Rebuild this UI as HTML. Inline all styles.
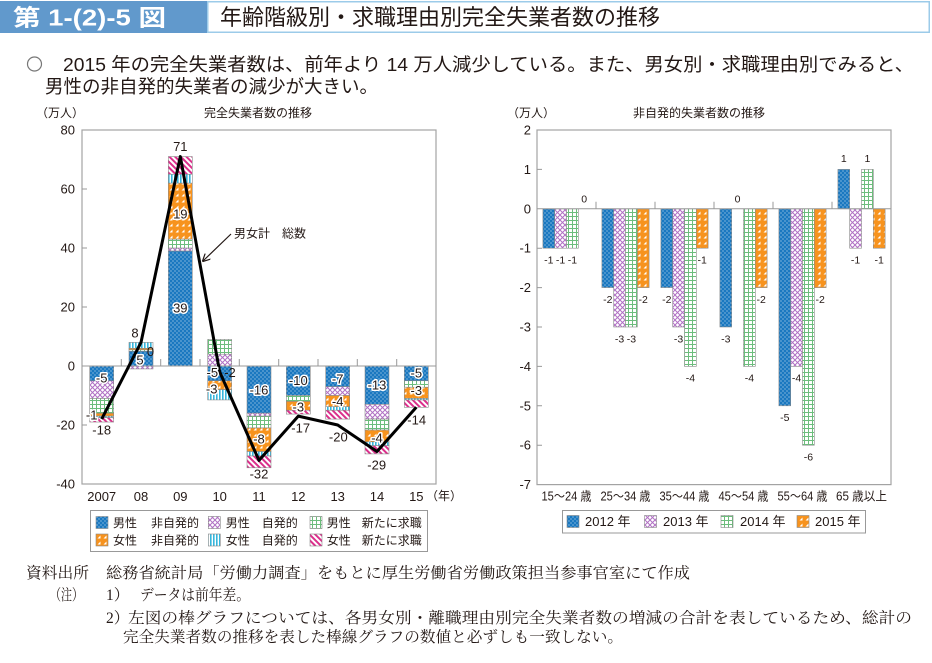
<!DOCTYPE html>
<html><head><meta charset="utf-8">
<style>
html,body{margin:0;padding:0;background:#fff;}
svg{display:block;}
.s{font-family:"Liberation Sans","Noto Sans CJK JP",sans-serif;fill:#231815;}
.m{font-family:"Liberation Serif","Noto Serif CJK SC",serif;fill:#231815;}
.h{stroke:#fff;stroke-width:3;paint-order:stroke;stroke-linejoin:round;}
</style></head>
<body>
<svg width="932" height="663" viewBox="0 0 932 663" xmlns="http://www.w3.org/2000/svg">
<defs>
<pattern id="pb" width="4" height="4" patternUnits="userSpaceOnUse">
<rect width="4" height="4" fill="#1a78c0"/><circle cx="1" cy="1" r="0.55" fill="#fff"/><circle cx="3" cy="3" r="0.55" fill="#fff"/>
</pattern>
<pattern id="pp" width="5" height="5" patternUnits="userSpaceOnUse">
<rect width="5" height="5" fill="#fff"/><path d="M0 0L5 5M5 0L0 5" stroke="#b070c4" stroke-width="1"/>
</pattern>
<pattern id="pg" width="4" height="4" patternUnits="userSpaceOnUse">
<rect width="4" height="4" fill="#fff"/><path d="M0 0.5H4M0.5 0V4" stroke="#6cbd7c" stroke-width="1"/>
</pattern>
<pattern id="po" width="6" height="6" patternUnits="userSpaceOnUse">
<rect width="6" height="6" fill="#f7931e"/><polygon points="1.5,4.5 4.5,4.5 4.5,1.5" fill="#fff"/>
</pattern>
<pattern id="pc" width="3" height="3" patternUnits="userSpaceOnUse">
<rect width="3" height="3" fill="#fff"/><rect width="1.6" height="3" fill="#36b6dc"/>
</pattern>
<pattern id="pk" width="4" height="4" patternUnits="userSpaceOnUse" patternTransform="rotate(-45)">
<rect width="4" height="4" fill="#fff"/><rect width="2" height="4" fill="#db2f8b"/>
</pattern>
<marker id="ar" markerWidth="8" markerHeight="8" refX="7" refY="4" orient="auto" markerUnits="userSpaceOnUse">
<path d="M0,0 L8,4 L0,8" fill="none" stroke="#231815" stroke-width="1.2"/>
</marker>
</defs>

<!-- Header -->
<rect x="0" y="1" width="207" height="32" fill="#6199cc"/>
<rect x="207.75" y="1.75" width="721.5" height="30.5" fill="#fff" stroke="#9ccbe9" stroke-width="1.5"/>
<text x="13" y="25.5" class="s" style="fill:#fff;font-size:23px;font-weight:bold;" textLength="153" lengthAdjust="spacingAndGlyphs">第 1-(2)-5 図</text>
<text x="220" y="25" class="s" style="font-size:22px;" textLength="440" lengthAdjust="spacingAndGlyphs">年齢階級別・求職理由別完全失業者数の推移</text>

<!-- Bullet -->
<circle cx="34.5" cy="64" r="7" fill="none" stroke="#777" stroke-width="1.2"/>
<text x="63" y="71" class="s" style="font-size:18.5px;" textLength="851" lengthAdjust="spacingAndGlyphs">2015 年の完全失業者数は、前年より 14 万人減少している。また、男女別・求職理由別でみると、</text>
<text x="45" y="93" class="s" style="font-size:18.5px;" textLength="333" lengthAdjust="spacingAndGlyphs">男性の非自発的失業者の減少が大きい。</text>

<!-- ============ LEFT CHART ============ -->
<text x="36" y="117" class="s" style="font-size:12px;">（万人）</text>
<text x="258" y="117" class="s" style="font-size:12px;" text-anchor="middle">完全失業者数の推移</text>

<g class="s" style="font-size:13px;" text-anchor="end">
<text x="75" y="134.5">80</text>
<text x="75" y="193.5">60</text>
<text x="75" y="252.5">40</text>
<text x="75" y="311.5">20</text>
<text x="75" y="370.5">0</text>
<text x="75" y="429.5">-20</text>
<text x="75" y="488.5">-40</text>
</g>

<!-- bars -->
<g stroke="#8a8a8a" stroke-width="0.6">
<rect x="89.7" y="366" width="24" height="14.75" fill="url(#pb)"/>
<rect x="89.7" y="380.75" width="24" height="17.7" fill="url(#pp)"/>
<rect x="89.7" y="398.45" width="24" height="14.75" fill="url(#pg)"/>
<rect x="89.7" y="413.2" width="24" height="2.95" fill="url(#po)"/>
<rect x="89.7" y="416.15" width="24" height="1.48" fill="url(#pc)"/>
<rect x="89.7" y="417.63" width="24" height="4.42" fill="url(#pk)"/>

<rect x="129" y="351.25" width="24" height="14.75" fill="url(#pb)"/>
<rect x="129" y="349.78" width="24" height="1.47" fill="url(#pg)"/>
<rect x="129" y="348.3" width="24" height="1.48" fill="url(#po)"/>
<rect x="129" y="342.4" width="24" height="5.9" fill="url(#pc)"/>
<rect x="129" y="366" width="24" height="2.95" fill="url(#pp)"/>

<rect x="168.3" y="250.95" width="24" height="115.05" fill="url(#pb)"/>
<rect x="168.3" y="248" width="24" height="2.95" fill="url(#pp)"/>
<rect x="168.3" y="239.15" width="24" height="8.85" fill="url(#pg)"/>
<rect x="168.3" y="183.1" width="24" height="56.05" fill="url(#po)"/>
<rect x="168.3" y="174.25" width="24" height="8.85" fill="url(#pc)"/>
<rect x="168.3" y="156.55" width="24" height="17.7" fill="url(#pk)"/>

<rect x="207.7" y="354.2" width="24" height="11.8" fill="url(#pp)"/>
<rect x="207.7" y="339.45" width="24" height="14.75" fill="url(#pg)"/>
<rect x="207.7" y="366" width="24" height="14.75" fill="url(#pb)"/>
<rect x="207.7" y="380.75" width="24" height="8.85" fill="url(#po)"/>
<rect x="207.7" y="389.6" width="24" height="10.33" fill="url(#pc)"/>

<rect x="247" y="366" width="24" height="47.2" fill="url(#pb)"/>
<rect x="247" y="413.2" width="24" height="2.95" fill="url(#pp)"/>
<rect x="247" y="416.15" width="24" height="11.8" fill="url(#pg)"/>
<rect x="247" y="427.95" width="24" height="23.6" fill="url(#po)"/>
<rect x="247" y="451.55" width="24" height="4.43" fill="url(#pc)"/>
<rect x="247" y="455.98" width="24" height="11.8" fill="url(#pk)"/>

<rect x="286.3" y="366" width="24" height="29.5" fill="url(#pb)"/>
<rect x="286.3" y="395.5" width="24" height="5.9" fill="url(#pg)"/>
<rect x="286.3" y="401.4" width="24" height="8.85" fill="url(#po)"/>
<rect x="286.3" y="410.25" width="24" height="3.84" fill="url(#pk)"/>

<rect x="325.7" y="366" width="24" height="20.65" fill="url(#pb)"/>
<rect x="325.7" y="386.65" width="24" height="8.85" fill="url(#pp)"/>
<rect x="325.7" y="395.5" width="24" height="11.21" fill="url(#po)"/>
<rect x="325.7" y="406.71" width="24" height="3.54" fill="url(#pc)"/>
<rect x="325.7" y="410.25" width="24" height="8.85" fill="url(#pk)"/>

<rect x="365" y="366" width="24" height="38.35" fill="url(#pb)"/>
<rect x="365" y="404.35" width="24" height="14.75" fill="url(#pp)"/>
<rect x="365" y="419.1" width="24" height="10.92" fill="url(#pg)"/>
<rect x="365" y="430.02" width="24" height="11.8" fill="url(#po)"/>
<rect x="365" y="441.82" width="24" height="3.83" fill="url(#pc)"/>
<rect x="365" y="445.65" width="24" height="8.26" fill="url(#pk)"/>

<rect x="404.3" y="366" width="24" height="14.75" fill="url(#pb)"/>
<rect x="404.3" y="380.75" width="24" height="6.49" fill="url(#pg)"/>
<rect x="404.3" y="387.24" width="24" height="11.21" fill="url(#po)"/>
<rect x="404.3" y="398.45" width="24" height="1.48" fill="url(#pc)"/>
<rect x="404.3" y="399.93" width="24" height="7.38" fill="url(#pk)"/>
</g>

<!-- frame -->
<rect x="82" y="130" width="354" height="354" fill="none" stroke="#a3a3a3" stroke-width="1.2"/>
<line x1="82" y1="366" x2="436" y2="366" stroke="#999" stroke-width="1"/>
<g stroke="#999" stroke-width="1">
<path d="M121.3 359V366M160.7 359V366M200 359V366M239.3 359V366M278.7 359V366M318 359V366M357.3 359V366M396.7 359V366"/>
<path d="M82 189H87M82 248H87M82 307H87M82 425H87"/>
</g>

<!-- total line -->
<polyline points="101.7,419.1 141,342.4 180.3,156.55 219.7,371.9 259,460.4 298.3,416.15 337.7,425 377,451.55 416.3,407.3" fill="none" stroke="#000" stroke-width="3" stroke-linejoin="round"/>

<!-- annotation -->
<line x1="231" y1="234" x2="203" y2="261" stroke="#231815" stroke-width="1.2" marker-end="url(#ar)"/>
<text x="234" y="237.5" class="s" style="font-size:12px;">男女計　総数</text>

<!-- value labels -->
<g class="s" style="font-size:13px;" text-anchor="middle">
<text x="101.7" y="382.5" class="h">-5</text>
<text x="91.7" y="419.5" class="h">-1</text>
<text x="101.7" y="434.5">-18</text>
<text x="135" y="337.5">8</text>
<text x="150.5" y="356">0</text>
<text x="140" y="364.5" class="h">5</text>
<text x="180.3" y="151">71</text>
<text x="180.3" y="218.5" class="h">19</text>
<text x="180.3" y="312.5" class="h">39</text>
<text x="212.3" y="377" class="h">-5</text>
<text x="230" y="377">-2</text>
<text x="211.7" y="393.5" class="h">-3</text>
<text x="259" y="394.5" class="h">-16</text>
<text x="259" y="443.5" class="h">-8</text>
<text x="259" y="478.5">-32</text>
<text x="298.3" y="385" class="h">-10</text>
<text x="298.3" y="411.5" class="h">-3</text>
<text x="300.7" y="432.5">-17</text>
<text x="337.7" y="383.5" class="h">-7</text>
<text x="337.7" y="406" class="h">-4</text>
<text x="338.3" y="441.5">-20</text>
<text x="377" y="389.5" class="h">-13</text>
<text x="377" y="442.5" class="h">-4</text>
<text x="376.7" y="469.5">-29</text>
<text x="416.3" y="377.5" class="h">-5</text>
<text x="416.3" y="395" class="h">-3</text>
<text x="416.7" y="424.5">-14</text>
</g>

<!-- x labels -->
<g class="s" style="font-size:13px;" text-anchor="middle">
<text x="101.7" y="501">2007</text>
<text x="141" y="501">08</text>
<text x="180.3" y="501">09</text>
<text x="219.7" y="501">10</text>
<text x="259" y="501">11</text>
<text x="298.3" y="501">12</text>
<text x="337.7" y="501">13</text>
<text x="377" y="501">14</text>
<text x="416.3" y="501">15</text>
</g>
<text x="426" y="500" class="s" style="font-size:12px;">（年）</text>

<!-- left legend -->
<rect x="90.5" y="510.5" width="337" height="41" fill="#fff" stroke="#999" stroke-width="1"/>
<g stroke="#888" stroke-width="0.6">
<rect x="96" y="516.5" width="12" height="12" fill="url(#pb)"/>
<rect x="208.3" y="516.5" width="12" height="12" fill="url(#pp)"/>
<rect x="310" y="516.5" width="12" height="12" fill="url(#pg)"/>
<rect x="96" y="534" width="12" height="12" fill="url(#po)"/>
<rect x="208.3" y="534" width="12" height="12" fill="url(#pc)"/>
<rect x="310" y="534" width="12" height="12" fill="url(#pk)"/>
</g>
<g class="s" style="font-size:12px;">
<text x="113" y="527">男性</text><text x="151" y="527">非自発的</text>
<text x="225.7" y="527">男性</text><text x="261.7" y="527">自発的</text>
<text x="326.7" y="527">男性</text><text x="361.7" y="527">新たに求職</text>
<text x="113" y="544.5">女性</text><text x="151" y="544.5">非自発的</text>
<text x="225.7" y="544.5">女性</text><text x="261.7" y="544.5">自発的</text>
<text x="326.7" y="544.5">女性</text><text x="361.7" y="544.5">新たに求職</text>
</g>

<!-- ============ RIGHT CHART ============ -->
<text x="507" y="117" class="s" style="font-size:12px;">（万人）</text>
<text x="699" y="117" class="s" style="font-size:12px;" text-anchor="middle">非自発的失業者数の推移</text>

<g class="s" style="font-size:13px;" text-anchor="end">
<text x="531" y="134.5">2</text>
<text x="531" y="173.9">1</text>
<text x="531" y="213.3">0</text>
<text x="531" y="252.7">-1</text>
<text x="531" y="292.1">-2</text>
<text x="531" y="331.5">-3</text>
<text x="531" y="370.9">-4</text>
<text x="531" y="410.3">-5</text>
<text x="531" y="449.7">-6</text>
<text x="531" y="489.1">-7</text>
</g>

<g stroke="#8a8a8a" stroke-width="0.6">
<rect x="542.9" y="208.8" width="11.8" height="39.4" fill="url(#pb)"/>
<rect x="554.7" y="208.8" width="11.8" height="39.4" fill="url(#pp)"/>
<rect x="566.5" y="208.8" width="11.8" height="39.4" fill="url(#pg)"/>

<rect x="601.9" y="208.8" width="11.8" height="78.8" fill="url(#pb)"/>
<rect x="613.7" y="208.8" width="11.8" height="118.2" fill="url(#pp)"/>
<rect x="625.5" y="208.8" width="11.8" height="118.2" fill="url(#pg)"/>
<rect x="637.3" y="208.8" width="11.8" height="78.8" fill="url(#po)"/>

<rect x="660.9" y="208.8" width="11.8" height="78.8" fill="url(#pb)"/>
<rect x="672.7" y="208.8" width="11.8" height="118.2" fill="url(#pp)"/>
<rect x="684.5" y="208.8" width="11.8" height="157.6" fill="url(#pg)"/>
<rect x="696.3" y="208.8" width="11.8" height="39.4" fill="url(#po)"/>

<rect x="719.9" y="208.8" width="11.8" height="118.2" fill="url(#pb)"/>
<rect x="743.5" y="208.8" width="11.8" height="157.6" fill="url(#pg)"/>
<rect x="755.3" y="208.8" width="11.8" height="78.8" fill="url(#po)"/>

<rect x="778.9" y="208.8" width="11.8" height="197" fill="url(#pb)"/>
<rect x="790.7" y="208.8" width="11.8" height="157.6" fill="url(#pp)"/>
<rect x="802.5" y="208.8" width="11.8" height="236.4" fill="url(#pg)"/>
<rect x="814.3" y="208.8" width="11.8" height="78.8" fill="url(#po)"/>

<rect x="837.9" y="169.4" width="11.8" height="39.4" fill="url(#pb)"/>
<rect x="849.7" y="208.8" width="11.8" height="39.4" fill="url(#pp)"/>
<rect x="861.5" y="169.4" width="11.8" height="39.4" fill="url(#pg)"/>
<rect x="873.3" y="208.8" width="11.8" height="39.4" fill="url(#po)"/>
</g>

<rect x="537" y="130" width="354" height="354.6" fill="none" stroke="#a3a3a3" stroke-width="1.2"/>
<line x1="537" y1="208.8" x2="891" y2="208.8" stroke="#999" stroke-width="1"/>
<g stroke="#999" stroke-width="1">
<path d="M596 201.8V208.8M655 201.8V208.8M714 201.8V208.8M773 201.8V208.8M832 201.8V208.8"/>
<path d="M537 169.4H542M537 248.2H542M537 287.6H542M537 327H542M537 366.4H542M537 405.8H542M537 445.2H542"/>
</g>

<g class="s" style="font-size:10.5px;" text-anchor="middle">
<text x="548.8" y="263.5">-1</text>
<text x="560.6" y="263.5">-1</text>
<text x="572.4" y="263.5">-1</text>
<text x="584.2" y="202.5">0</text>
<text x="607.8" y="303">-2</text>
<text x="619.6" y="342.5">-3</text>
<text x="631.4" y="342.5">-3</text>
<text x="643.2" y="303">-2</text>
<text x="666.8" y="303">-2</text>
<text x="678.6" y="342.5">-3</text>
<text x="690.4" y="381.5">-4</text>
<text x="702.2" y="263.5">-1</text>
<text x="725.8" y="342.5">-3</text>
<text x="737.6" y="202.5">0</text>
<text x="749.4" y="381.5">-4</text>
<text x="761.2" y="303">-2</text>
<text x="784.8" y="421">-5</text>
<text x="796.6" y="381.5">-4</text>
<text x="808.4" y="460.5">-6</text>
<text x="820.2" y="303">-2</text>
<text x="843.8" y="162">1</text>
<text x="855.6" y="263.5">-1</text>
<text x="867.4" y="162">1</text>
<text x="879.2" y="263.5">-1</text>
</g>

<g class="s" style="font-size:12.5px;">
<text x="541.5" y="500.5" textLength="50" lengthAdjust="spacingAndGlyphs">15～24 歳</text>
<text x="600.5" y="500.5" textLength="50" lengthAdjust="spacingAndGlyphs">25～34 歳</text>
<text x="659.5" y="500.5" textLength="50" lengthAdjust="spacingAndGlyphs">35～44 歳</text>
<text x="718.5" y="500.5" textLength="50" lengthAdjust="spacingAndGlyphs">45～54 歳</text>
<text x="777.5" y="500.5" textLength="50" lengthAdjust="spacingAndGlyphs">55～64 歳</text>
<text x="836" y="500.5" textLength="51" lengthAdjust="spacingAndGlyphs">65 歳以上</text>
</g>

<!-- right legend -->
<rect x="562.5" y="510.5" width="303" height="22.5" fill="#fff" stroke="#999" stroke-width="1"/>
<g stroke="#888" stroke-width="0.6">
<rect x="567" y="515.5" width="12" height="12" fill="url(#pb)"/>
<rect x="644.5" y="515.5" width="12" height="12" fill="url(#pp)"/>
<rect x="721" y="515.5" width="12" height="12" fill="url(#pg)"/>
<rect x="797" y="515.5" width="12" height="12" fill="url(#po)"/>
</g>
<g class="s" style="font-size:13px;">
<text x="585" y="526">2012 年</text>
<text x="663" y="526">2013 年</text>
<text x="740" y="526">2014 年</text>
<text x="815" y="526">2015 年</text>
</g>

<!-- Footnotes -->
<g class="m" style="font-size:15.5px;">
<text x="26" y="578" textLength="63" lengthAdjust="spacingAndGlyphs">資料出所</text>
<text x="106" y="578" textLength="584" lengthAdjust="spacingAndGlyphs">総務省統計局「労働力調査」をもとに厚生労働省労働政策担当参事官室にて作成</text>
<text x="50" y="600" textLength="33" lengthAdjust="spacingAndGlyphs">（注）</text>
<text x="106" y="600">1）</text>
<text x="140" y="600" textLength="110" lengthAdjust="spacingAndGlyphs">データは前年差。</text>
<text x="106" y="623">2）</text>
<text x="128" y="623" textLength="784" lengthAdjust="spacingAndGlyphs">左図の棒グラフについては、各男女別・離職理由別完全失業者数の増減の合計を表しているため、総計の</text>
<text x="123" y="642" textLength="500" lengthAdjust="spacingAndGlyphs">完全失業者数の推移を表した棒線グラフの数値と必ずしも一致しない。</text>
</g>
</svg>
</body></html>
